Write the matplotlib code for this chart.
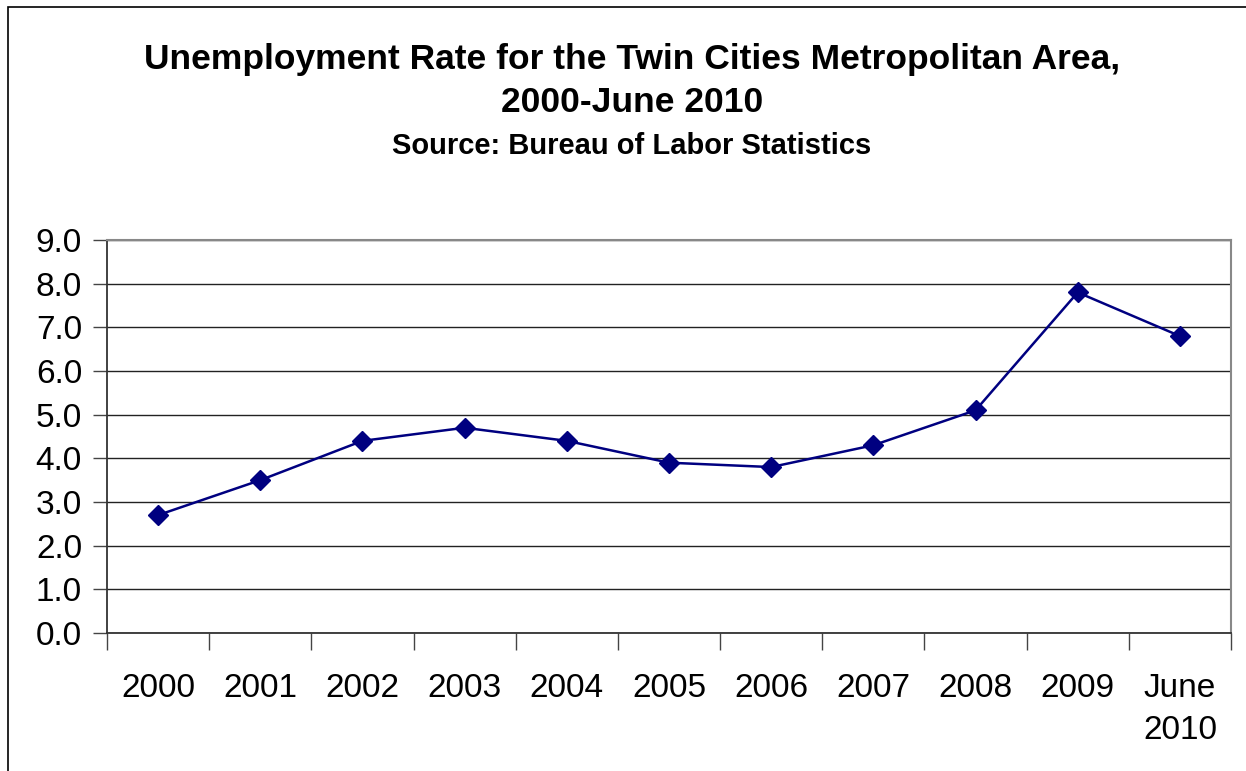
import matplotlib
matplotlib.use("Agg")
import matplotlib.pyplot as plt
from matplotlib.patches import Rectangle

categories = ["2000", "2001", "2002", "2003", "2004", "2005", "2006", "2007", "2008", "2009", "June\n2010"]
rates = [2.7, 3.5, 4.4, 4.7, 4.4, 3.9, 3.8, 4.3, 5.1, 7.8, 6.8]
yticks = [0.0, 1.0, 2.0, 3.0, 4.0, 5.0, 6.0, 7.0, 8.0, 9.0]

plt.rcParams['font.family'] = ['Liberation Sans', 'DejaVu Sans']

fig = plt.figure(figsize=(12.46, 7.71), dpi=100)
ax = fig.add_axes([107/1246, 1-633/771, (1231-107)/1246, (633-240)/771])

# outer frame
fig.patches.append(Rectangle((8/1246, -0.05), 1.2, 1-7/771+0.05, transform=fig.transFigure,
                             fill=False, edgecolor='black', linewidth=1.2))

x = list(range(len(categories)))
ax.plot(x, rates, color='#000080', linewidth=1.8, marker='D', markersize=10,
        markerfacecolor='#000080', markeredgecolor='#000080', zorder=3)

ax.set_xlim(-0.5, len(categories)-0.5)
ax.set_ylim(0, 9)
ax.set_yticks(yticks)
ax.set_yticklabels([f"{v:.1f}" for v in yticks], fontsize=24)
ax.yaxis.grid(True, color='#222222', linewidth=1.0)
ax.set_axisbelow(True)

ax.set_xticks(x)
ax.set_xticklabels(categories, fontsize=24, va='top', linespacing=1.45)
ax.tick_params(axis='x', length=0, pad=29)
ax.set_xticks([i - 0.5 for i in range(len(categories)+1)], minor=True)
ax.tick_params(axis='x', which='minor', length=12, width=1.0, color='#444444')
ax.tick_params(axis='y', length=10, width=1.0, color='#444444', pad=8)

for s in ['top', 'right']:
    ax.spines[s].set_color('#888888')
    ax.spines[s].set_linewidth(1.5)
ax.spines['left'].set_color('#333333')
ax.spines['bottom'].set_color('#333333')
ax.spines['left'].set_linewidth(1.3)
ax.spines['bottom'].set_linewidth(1.3)

fig.text(632/1246, 1-60/771, "Unemployment Rate for the Twin Cities Metropolitan Area,",
         ha='center', va='center', fontsize=25.5, fontweight='bold')
fig.text(632/1246, 1-103/771, "2000-June 2010",
         ha='center', va='center', fontsize=25.5, fontweight='bold')
fig.text(632/1246, 1-146/771, "Source: Bureau of Labor Statistics",
         ha='center', va='center', fontsize=21, fontweight='bold')

fig.savefig("out.png", dpi=100)
